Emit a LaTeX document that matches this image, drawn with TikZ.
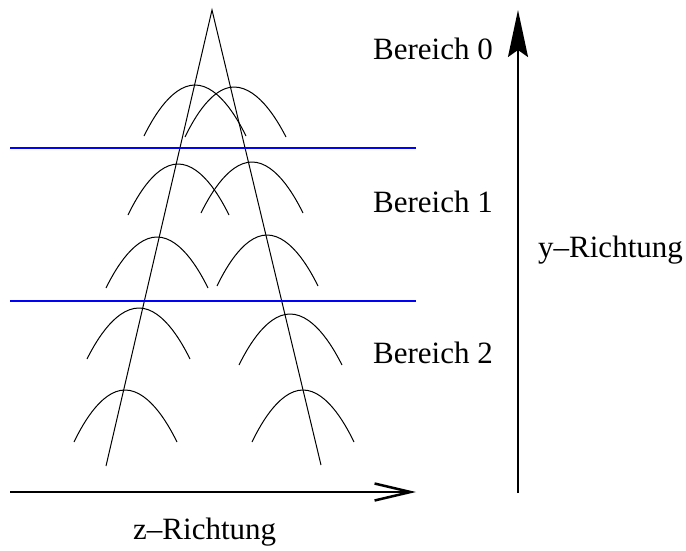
\documentclass[tikz,border=0pt]{standalone}
\usepackage{fontspec}
\setmainfont{Liberation Serif}
\usetikzlibrary{arrows.meta}

\begin{document}
\begin{tikzpicture}[
    x=1pt, y=-1pt,
    beam/.style={draw=black, line width=1pt},
    bump/.style={draw=black, line width=1pt},
    grenze/.style={draw=blue, line width=2.5pt},
    achse/.style={draw=black, line width=2pt},
    label/.style={anchor=base west, inner sep=0pt, font=\fontsize{31}{37}\selectfont}
]
\useasboundingbox (0,0) rectangle (686,550);

% V-shaped beams
\coordinate (apex) at (212,10);
\coordinate (footL) at (106,466);
\coordinate (footR) at (321,465);
\draw[beam] (footL) -- (apex) -- (footR);

% region borders
\coordinate (g1a) at (10,148);
\coordinate (g1b) at (416,148);
\coordinate (g2a) at (10,301);
\coordinate (g2b) at (416,301);
\draw[grenze] (g1a) -- (g1b);
\draw[grenze] (g2a) -- (g2b);

% parabolas along the beams
\foreach \xa/\ya/\xb/\yb/\xc in {
    144/136/195/85/246, 185/137/234/87/286,
    128/215/178/164/229, 201/213/252/162/303,
    106/288/157/237/208, 217/286/267/235/318,
    87/359/139/308/190, 239/365/290/314/342,
    74/442/125/390/177, 252/442/303/390/354}
    \draw[bump] (\xa,\ya) parabola bend (\xb,\yb) (\xc,\ya);

% axes
\coordinate (zstart) at (10,492);
\coordinate (zend) at (416,492);
\coordinate (ystart) at (518,493);
\coordinate (yend) at (518,10);
\draw[achse, -{Straight Barb[length=36pt, width=17pt, line width=2.5pt]}] (zstart) -- (zend);
\draw[achse, -{Stealth[length=47pt, width=20pt, inset=7pt]}] (ystart) -- (yend);

% labels
\node[label] (bereich0) at (373,59) {Bereich 0};
\node[label] (bereich1) at (373,212) {Bereich 1};
\node[label] (bereich2) at (373,363) {Bereich 2};
\node[label] (yrichtung) at (538,257) {y–Richtung};
\node[label] (zrichtung) at (133,539) {z–Richtung};

\end{tikzpicture}
\end{document}
